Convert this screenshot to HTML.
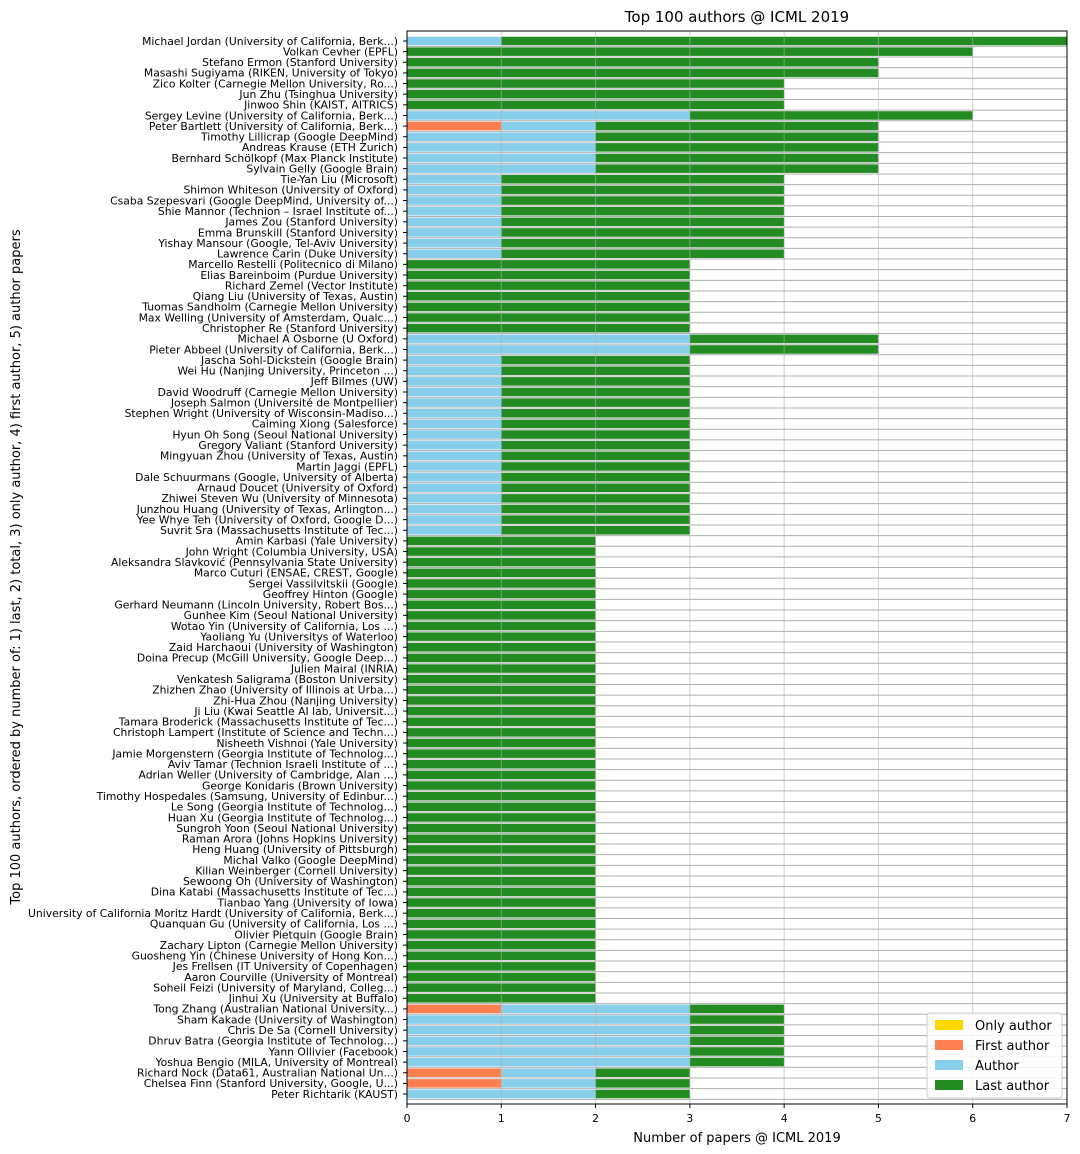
<!DOCTYPE html>
<html><head><meta charset="utf-8"><style>
body{margin:0;background:#fff;}
svg{display:block;font-family:"DejaVu Sans","Liberation Sans",sans-serif;}
</style></head><body>
<svg id="chart" width="1080" height="1154">
<text x="737" y="22" font-size="15" text-anchor="middle">Top 100 authors @ ICML 2019</text>
<g id="grid"></g>
<g id="bars"></g>
<g id="vgrid"></g>
<g id="ylabels"></g>
<g id="xticks"></g>
<rect x="407" y="31" width="660" height="1073" fill="none" stroke="#000" stroke-width="1"/>
<text x="737" y="1142" font-size="13" text-anchor="middle">Number of papers @ ICML 2019</text>
<text transform="translate(20,567) rotate(-90)" font-size="13" text-anchor="middle">Top 100 authors, ordered by number of: 1) last, 2) total, 3) only author, 4) first author, 5) author papers</text>
<g>
<rect x="927" y="1013" width="135" height="85" fill="#fff" fill-opacity="0.85" stroke="#ccc" rx="3"/>
<g><rect x="935" y="1020" width="28" height="10" fill="#ffd700"/><text x="975" y="1030" font-size="13">Only author</text></g>
<g><rect x="935" y="1040" width="28" height="10" fill="#ff7f50"/><text x="975" y="1050" font-size="13">First author</text></g>
<g><rect x="935" y="1060" width="28" height="10" fill="#87ceeb"/><text x="975" y="1070" font-size="13">Author</text></g>
<g><rect x="935" y="1080" width="28" height="10" fill="#228b22"/><text x="975" y="1090" font-size="13">Last author</text></g>
</g>
</svg>
<script>
const names = ["Michael Jordan (University of California, Berk...)","Volkan Cevher (EPFL)","Stefano Ermon (Stanford University)","Masashi Sugiyama (RIKEN, University of Tokyo)","Zico Kolter (Carnegie Mellon University, Ro...)","Jun Zhu (Tsinghua University)","Jinwoo Shin (KAIST, AITRICS)","Sergey Levine (University of California, Berk...)","Peter Bartlett (University of California, Berk...)","Timothy Lillicrap (Google DeepMind)","Andreas Krause (ETH Zurich)","Bernhard Schölkopf (Max Planck Institute)","Sylvain Gelly (Google Brain)","Tie-Yan Liu (Microsoft)","Shimon Whiteson (University of Oxford)","Csaba Szepesvari (Google DeepMind, University of...)","Shie Mannor (Technion – Israel Institute of...)","James Zou (Stanford University)","Emma Brunskill (Stanford University)","Yishay Mansour (Google, Tel-Aviv University)","Lawrence Carin (Duke University)","Marcello Restelli (Politecnico di Milano)","Elias Bareinboim (Purdue University)","Richard Zemel (Vector Institute)","Qiang Liu (University of Texas, Austin)","Tuomas Sandholm (Carnegie Mellon University)","Max Welling (University of Amsterdam, Qualc...)","Christopher Re (Stanford University)","Michael A Osborne (U Oxford)","Pieter Abbeel (University of California, Berk...)","Jascha Sohl-Dickstein (Google Brain)","Wei Hu (Nanjing University, Princeton ...)","Jeff Bilmes (UW)","David Woodruff (Carnegie Mellon University)","Joseph Salmon (Université de Montpellier)","Stephen Wright (University of Wisconsin-Madiso...)","Caiming Xiong (Salesforce)","Hyun Oh Song (Seoul National University)","Gregory Valiant (Stanford University)","Mingyuan Zhou (University of Texas, Austin)","Martin Jaggi (EPFL)","Dale Schuurmans (Google, University of Alberta)","Arnaud Doucet (University of Oxford)","Zhiwei Steven Wu (University of Minnesota)","Junzhou Huang (University of Texas, Arlington...)","Yee Whye Teh (University of Oxford, Google D...)","Suvrit Sra (Massachusetts Institute of Tec...)","Amin Karbasi (Yale University)","John Wright (Columbia University, USA)","Aleksandra Slavković (Pennsylvania State University)","Marco Cuturi (ENSAE, CREST, Google)","Sergei Vassilvitskii (Google)","Geoffrey Hinton (Google)","Gerhard Neumann (Lincoln University, Robert Bos...)","Gunhee Kim (Seoul National University)","Wotao Yin (University of California, Los ...)","Yaoliang Yu (Universitys of Waterloo)","Zaid Harchaoui (University of Washington)","Doina Precup (McGill University, Google Deep...)","Julien Mairal (INRIA)","Venkatesh Saligrama (Boston University)","Zhizhen Zhao (University of Illinois at Urba...)","Zhi-Hua Zhou (Nanjing University)","Ji Liu (Kwai Seattle AI lab, Universit...)","Tamara Broderick (Massachusetts Institute of Tec...)","Christoph Lampert (Institute of Science and Techn...)","Nisheeth Vishnoi (Yale University)","Jamie Morgenstern (Georgia Institute of Technolog...)","Aviv Tamar (Technion Israeli Institute of ...)","Adrian Weller (University of Cambridge, Alan ...)","George Konidaris (Brown University)","Timothy Hospedales (Samsung, University of Edinbur...)","Le Song (Georgia Institute of Technolog...)","Huan Xu (Georgia Institute of Technolog...)","Sungroh Yoon (Seoul National University)","Raman Arora (Johns Hopkins University)","Heng Huang (University of Pittsburgh)","Michal Valko (Google DeepMind)","Kilian Weinberger (Cornell University)","Sewoong Oh (University of Washington)","Dina Katabi (Massachusetts Institute of Tec...)","Tianbao Yang (University of Iowa)","University of California Moritz Hardt (University of California, Berk...)","Quanquan Gu (University of California, Los ...)","Olivier Pietquin (Google Brain)","Zachary Lipton (Carnegie Mellon University)","Guosheng Yin (Chinese University of Hong Kon...)","Jes Frellsen (IT University of Copenhagen)","Aaron Courville (University of Montreal)","Soheil Feizi (University of Maryland, Colleg...)","Jinhui Xu (University at Buffalo)","Tong Zhang (Australian National University...)","Sham Kakade (University of Washington)","Chris De Sa (Cornell University)","Dhruv Batra (Georgia Institute of Technolog...)","Yann Ollivier (Facebook)","Yoshua Bengio (MILA, University of Montreal)","Richard Nock (Data61, Australian National Un...)","Chelsea Finn (Stanford University, Google, U...)","Peter Richtarik (KAUST)"];
const onlyAuthor = new Array(100).fill(0);
const firstAuthor = [0,0,0,0,0,0,0,0,1,0,0,0,0,0,0,0,0,0,0,0,0,0,0,0,0,0,0,0,0,0,0,0,0,0,0,0,0,0,0,0,0,0,0,0,0,0,0,0,0,0,0,0,0,0,0,0,0,0,0,0,0,0,0,0,0,0,0,0,0,0,0,0,0,0,0,0,0,0,0,0,0,0,0,0,0,0,0,0,0,0,0,1,0,0,0,0,0,1,1,0];
const author = [1,0,0,0,0,0,0,3,1,2,2,2,2,1,1,1,1,1,1,1,1,0,0,0,0,0,0,0,3,3,1,1,1,1,1,1,1,1,1,1,1,1,1,1,1,1,1,0,0,0,0,0,0,0,0,0,0,0,0,0,0,0,0,0,0,0,0,0,0,0,0,0,0,0,0,0,0,0,0,0,0,0,0,0,0,0,0,0,0,0,0,2,3,3,3,3,3,1,1,2];
const lastAuthor = [6,6,5,5,4,4,4,3,3,3,3,3,3,3,3,3,3,3,3,3,3,3,3,3,3,3,3,3,2,2,2,2,2,2,2,2,2,2,2,2,2,2,2,2,2,2,2,2,2,2,2,2,2,2,2,2,2,2,2,2,2,2,2,2,2,2,2,2,2,2,2,2,2,2,2,2,2,2,2,2,2,2,2,2,2,2,2,2,2,2,2,1,1,1,1,1,1,1,1,1];
const xTicks = [0,1,2,3,4,5,6,7];

const NS="http://www.w3.org/2000/svg";
const X0=407,X1=1067,XMAX=7,Y0=31,Y1=1104;
const C0=41,C1=1094;
const pitch=(C1-C0)/(names.length-1);
const xs=v=>X0+v*(X1-X0)/XMAX;
const yc=i=>C0+pitch*i;
const bh=pitch*0.8;
function mk(tag,attrs,parent){const e=document.createElementNS(NS,tag);for(const k in attrs)e.setAttribute(k,attrs[k]);parent.appendChild(e);return e;}
const grid=document.getElementById('grid'),bars=document.getElementById('bars'),vg=document.getElementById('vgrid'),yl=document.getElementById('ylabels'),xt=document.getElementById('xticks');
for(let i=0;i<names.length;i++){
  const y=yc(i)+pitch/2;
  const l=mk('line',{x1:X0,x2:X1,y1:y,y2:y,stroke:'#b0b0b0','stroke-width':1},grid);
  
  
}
const series=[[onlyAuthor,'#ffd700','only'],[firstAuthor,'#ff7f50','first'],[author,'#87ceeb','author'],[lastAuthor,'#228b22','last']];
names.forEach((n,i)=>{
  let acc=0;
  series.forEach(([arr,col,key])=>{
    const v=arr[i];
    if(v>0){
      const r=mk('rect',{x:xs(acc),y:yc(i)-bh/2,width:xs(acc+v)-xs(acc),height:bh,fill:col},bars);
      
      
    }
    acc+=v;
  });
  const t=mk('text',{x:X0-9,y:yc(i)+3.8,'font-size':10.8,'text-anchor':'end'},yl);
  t.textContent=n;
  
  
  mk('line',{x1:X0-4,x2:X0,y1:yc(i),y2:yc(i),stroke:'#000'},yl);
});
xTicks.forEach(v=>{
  const x=xs(v);
  if(v>0&&v<XMAX){const g=mk('line',{x1:x,x2:x,y1:Y0,y2:Y1,stroke:'#b0b0b0','stroke-opacity':0.6},vg);
  
  }
  mk('line',{x1:x,x2:x,y1:Y1,y2:Y1+4,stroke:'#000'},xt);
  const t=mk('text',{x:x,y:Y1+18,'font-size':10.8,'text-anchor':'middle'},xt);
  t.textContent=v;
  
  
});
</script>
</body></html>
